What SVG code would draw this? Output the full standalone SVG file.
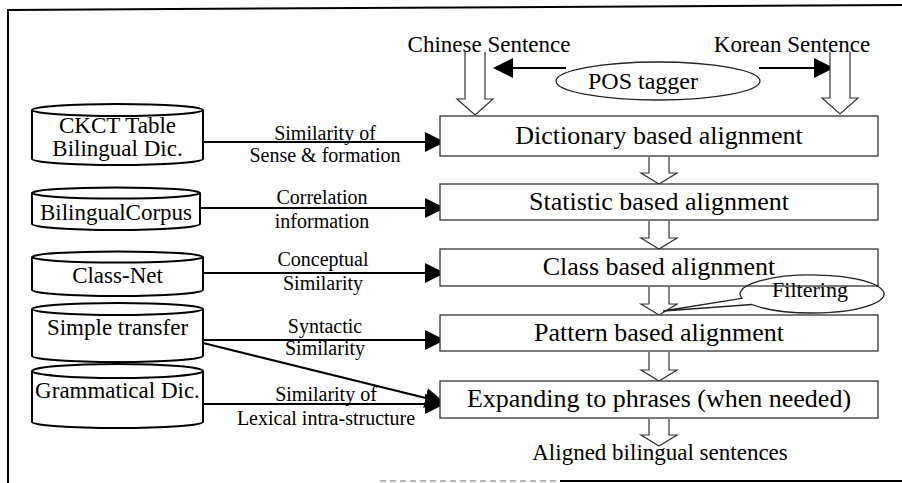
<svg xmlns="http://www.w3.org/2000/svg" width="902" height="483" viewBox="0 0 902 483">
  <style>
    text { font-family: "Liberation Serif", "Times New Roman", serif; fill: #000; }
    .main { font-size: 23px; }
    .step { font-size: 26px; text-anchor: middle; }
    .db { font-size: 23px; text-anchor: middle; }
    .lbl { font-size: 20px; text-anchor: middle; }
    .box { fill: #fff; stroke: #333; stroke-width: 1.3; }
    .cyl { fill: #fff; stroke: #000; stroke-width: 2; }
    .hollow { fill: #fff; stroke: #333; stroke-width: 1.2; }
    .link { fill: none; stroke: #000; stroke-width: 2.2; }
    .frame { fill: none; stroke: #000; stroke-width: 2; }
  </style>
  <defs>
    <marker id="head" viewBox="0 0 20 20" markerWidth="20" markerHeight="20" refX="17" refY="10" orient="auto" markerUnits="userSpaceOnUse">
      <path d="M0,0 L20,10 L0,20 Z" fill="#000"/>
    </marker>
  </defs>

  <rect width="902" height="483" fill="#fff"/>

  <!-- outer frame -->
  <g id="frame">
    <line class="frame" x1="8" y1="10" x2="902" y2="5"/>
    <line class="frame" x1="8" y1="9" x2="8" y2="483"/>
    <line x1="380" y1="481" x2="560" y2="481" stroke="#999" stroke-width="1.5" stroke-dasharray="6 4"/>
    <line class="frame" x1="560" y1="481" x2="902" y2="481"/>
  </g>

  <!-- connectors -->
  <g id="connectors">
    <line class="link" x1="566" y1="68" x2="496" y2="68" marker-end="url(#head)"/>
    <line class="link" x1="759" y1="68" x2="831" y2="68" marker-end="url(#head)"/>
    <line class="link" x1="203" y1="142" x2="442" y2="142" marker-end="url(#head)"/>
    <line class="link" x1="200" y1="208" x2="442" y2="208" marker-end="url(#head)"/>
    <line class="link" x1="203" y1="273" x2="442" y2="273" marker-end="url(#head)"/>
    <line class="link" x1="203" y1="340" x2="442" y2="340" marker-end="url(#head)"/>
    <line class="link" x1="203" y1="404" x2="442" y2="404" marker-end="url(#head)"/>
    <line class="link" x1="203" y1="343" x2="442" y2="402" marker-end="url(#head)"/>

    <!-- hollow flow arrows -->
    <path class="hollow" d="M465,52 V99 H457 L475,115 L493,99 H485 V52"/>
    <path class="hollow" d="M830,52 V98 H822 L840,114 L858,98 H850 V52"/>
    <path class="hollow" d="M649,157 V173 H641 L659,184 L677,173 H669 V157"/>
    <path class="hollow" d="M649,221 V238 H641 L659,249 L677,238 H669 V221"/>
    <path class="hollow" d="M649,287 V304 H641 L659,315 L677,304 H669 V287"/>
    <path class="hollow" d="M649,352 V370 H641 L659,381 L677,370 H669 V352"/>
    <path class="hollow" d="M649,419 V435 H641 L659,446 L677,435 H669 V419"/>

    <!-- edge labels -->
    <text class="lbl" x="325" y="140">Similarity of</text>
    <text class="lbl" x="325" y="162">Sense &amp; formation</text>
    <text class="lbl" x="322" y="204">Correlation</text>
    <text class="lbl" x="322" y="228">information</text>
    <text class="lbl" x="323" y="266">Conceptual</text>
    <text class="lbl" x="323" y="290">Similarity</text>
    <text class="lbl" x="325" y="333">Syntactic</text>
    <text class="lbl" x="325" y="355">Similarity</text>
    <text class="lbl" x="326" y="401">Similarity of</text>
    <text class="lbl" x="326" y="425">Lexical intra-structure</text>
  </g>

  <!-- inputs -->
  <g id="chinese-sentence">
    <text class="main" x="489" y="52" text-anchor="middle">Chinese Sentence</text>
  </g>
  <g id="korean-sentence">
    <text class="main" x="792" y="52" text-anchor="middle">Korean Sentence</text>
  </g>
  <g id="pos-tagger">
    <ellipse cx="658" cy="81" rx="102" ry="19" fill="#fff" stroke="#222" stroke-width="1.3"/>
    <text x="643" y="89" font-size="24" text-anchor="middle">POS tagger</text>
  </g>

  <!-- resources -->
  <g id="ckct-table">
    <path class="cyl" d="M32,110 V159 A85.5,6 0 0 0 203,159 V110"/>
    <ellipse class="cyl" cx="117.5" cy="110" rx="85.5" ry="6"/>
    <text class="db" x="117.5" y="133" font-size="22">CKCT Table</text>
    <text class="db" x="117.5" y="156" font-size="22">Bilingual Dic.</text>
  </g>
  <g id="bilingual-corpus">
    <path class="cyl" d="M32,193 V224 A84,6 0 0 0 200,224 V193"/>
    <ellipse class="cyl" cx="116" cy="193" rx="84" ry="5.5"/>
    <text class="db" x="116" y="220">BilingualCorpus</text>
  </g>
  <g id="class-net">
    <path class="cyl" d="M32,257 V290 A85.5,6 0 0 0 203,290 V257"/>
    <ellipse class="cyl" cx="117.5" cy="257" rx="85.5" ry="5.5"/>
    <text class="db" x="117.5" y="283">Class-Net</text>
  </g>
  <g id="simple-transfer">
    <path class="cyl" d="M32,309 V356 A85.5,6 0 0 0 203,356 V309"/>
    <ellipse class="cyl" cx="117.5" cy="309" rx="85.5" ry="6"/>
    <text class="db" x="117.5" y="335">Simple transfer</text>
  </g>
  <g id="grammatical-dic">
    <path class="cyl" d="M32,371 V422 A85.5,6 0 0 0 203,422 V371"/>
    <ellipse class="cyl" cx="117.5" cy="371" rx="85.5" ry="7"/>
    <text class="db" x="117.5" y="398">Grammatical Dic.</text>
  </g>

  <!-- alignment stages -->
  <g id="dictionary-alignment">
    <rect class="box" x="440" y="116" width="438" height="40"/>
    <text class="step" x="659" y="144">Dictionary based alignment</text>
  </g>
  <g id="statistic-alignment">
    <rect class="box" x="440" y="184" width="438" height="36"/>
    <text class="step" x="659" y="210">Statistic based alignment</text>
  </g>
  <g id="class-alignment">
    <rect class="box" x="440" y="249" width="438" height="37"/>
    <text class="step" x="659" y="275">Class based alignment</text>
  </g>
  <g id="pattern-alignment">
    <rect class="box" x="440" y="315" width="438" height="36"/>
    <text class="step" x="659" y="341">Pattern based alignment</text>
  </g>
  <g id="phrase-expansion">
    <rect class="box" x="440" y="381" width="438" height="37"/>
    <text class="step" x="659" y="407">Expanding to phrases (when needed)</text>
  </g>

  <!-- filtering callout -->
  <g id="filtering">
    <path d="M752,304.5 L663,311 L742,298.4 A72,19 0 1 1 752,304.5" fill="none" stroke="#222" stroke-width="1.3"/>
    <text x="810" y="297" font-size="22" text-anchor="middle">Filtering</text>
  </g>

  <!-- output -->
  <g id="aligned-output">
    <text class="main" x="660" y="460" text-anchor="middle">Aligned bilingual sentences</text>
  </g>
</svg>
